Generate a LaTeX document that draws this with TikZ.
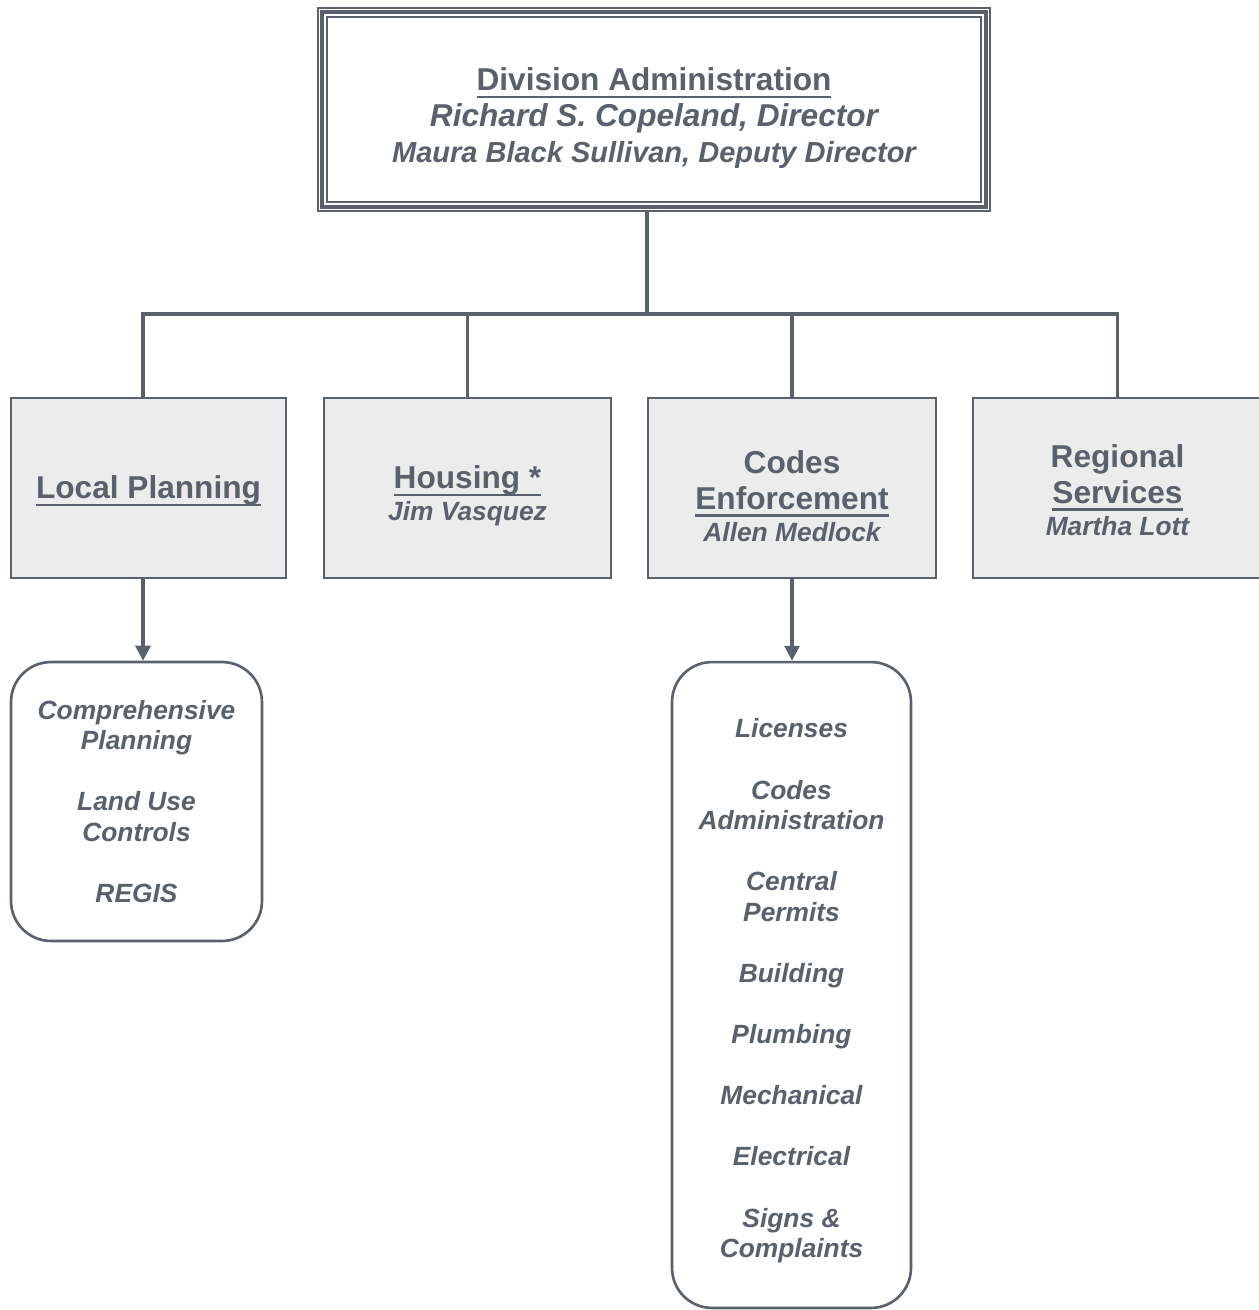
\documentclass[tikz,border=0pt]{standalone}
\usepackage{fontspec}
\setmainfont{Liberation Sans}
\usepackage{tikz}
\usetikzlibrary{positioning,arrows.meta}

\definecolor{slate}{HTML}{5A606C}
\definecolor{boxgrey}{HTML}{ECECEC}

\newsavebox{\ulbox}
\newcommand{\ulined}[1]{\sbox{\ulbox}{#1}\rlap{\rule[-4.2pt]{\wd\ulbox}{1.4pt}}\usebox{\ulbox}}
\newcommand{\namefont}{\fontsize{15}{19.5}\selectfont\itshape}
\newcommand{\topstrut}[1]{\rule{0pt}{#1}}

\begin{document}
\begin{tikzpicture}[x=0.02cm, y=-0.02cm,
	topnode/.style={rectangle, draw=slate, line width=0.9pt, fill=white, text=slate, align=center, minimum width=13.44cm, minimum height=4.06cm, inner sep=0pt, font=\fontsize{18}{20.5}\selectfont\bfseries},
	squanode/.style={rectangle, draw=slate, line width=1.1pt, fill=boxgrey, text=slate, align=center, minimum height=3.6cm, inner sep=0pt, font=\fontsize{18}{20.5}\selectfont\bfseries},
	listnode/.style={rectangle, rounded corners=0.8cm, draw=slate, line width=1.5pt, fill=white, text=slate, align=center, inner sep=0pt, font=\fontsize{15}{17.4}\selectfont\bfseries\itshape},
	connline/.style={draw=slate, line width=1.8pt},
	arrline/.style={draw=slate, line width=1.8pt, -{Triangle[length=0.3cm, width=0.3cm]}},
	]
	\useasboundingbox (0,0) rectangle (1258,1310);

	%Nodes
	\node[topnode] (Admin) at (654,109.5) {\topstrut{23.3pt}\ulined{Division Administration}\\ \itshape Richard S. Copeland, Director\\ \fontsize{16.5}{19.5}\selectfont\itshape Maura Black Sullivan, Deputy Director};
	\node[squanode, minimum width=5.5cm] (LocalPlan) at (148.5,488) {\topstrut{16.5pt}\ulined{Local Planning}};
	\node[squanode, minimum width=5.74cm] (Housing) at (467.5,488) {\topstrut{22pt}\ulined{Housing *}\\[-2.3pt] \namefont Jim Vasquez};
	\node[squanode, minimum width=5.76cm] (Codes) at (792,488) {\topstrut{22pt}Codes\\ \ulined{Enforcement}\\[-2.3pt] \namefont Allen Medlock};
	\node[squanode, minimum width=5.78cm] (Regional) at (1117.5,488) {\topstrut{15.2pt}Regional\\ \ulined{Services}\\[-2.3pt] \namefont Martha Lott};
	\node[listnode, minimum width=5.02cm, minimum height=5.58cm] (PlanList) at (136.5,801.5) {Comprehensive\\ Planning\\[17.4pt] Land Use\\ Controls\\[17.4pt] REGIS};
	\node[listnode, minimum width=4.78cm, minimum height=12.92cm] (CodesList) at (791.5,985) {\topstrut{17.7pt}Licenses\\[17.4pt] Codes\\ Administration\\[17.4pt] Central\\ Permits\\[17.4pt] Building\\[17.4pt] Plumbing\\[17.4pt] Mechanical\\[17.4pt] Electrical\\[17.4pt] Signs \&\\ Complaints};

	\coordinate (Bus) at (647,314);
	\coordinate (BusLeft) at (143,314);

	%Lines
	\draw[connline] (Admin.south -| Bus) -- (Bus);
	\draw[connline] (LocalPlan.north -| BusLeft) -- (BusLeft) -- (Regional.north |- Bus) -- (Regional.north);
	\draw[connline] (Housing.north |- Bus) -- (Housing.north);
	\draw[connline] (Codes.north |- Bus) -- (Codes.north);
	\draw[arrline] (LocalPlan.south -| BusLeft) -- (PlanList.north -| BusLeft);
	\draw[arrline] (Codes.south) -- (Codes.south |- CodesList.north);

	\draw[slate, line width=2.2pt] ([shift={(5,5)}]Admin.north west) rectangle ([shift={(-5,-5)}]Admin.south east);
	\draw[slate, line width=0.9pt] ([shift={(10,10)}]Admin.north west) rectangle ([shift={(-10,-10)}]Admin.south east);

\end{tikzpicture}
\end{document}
